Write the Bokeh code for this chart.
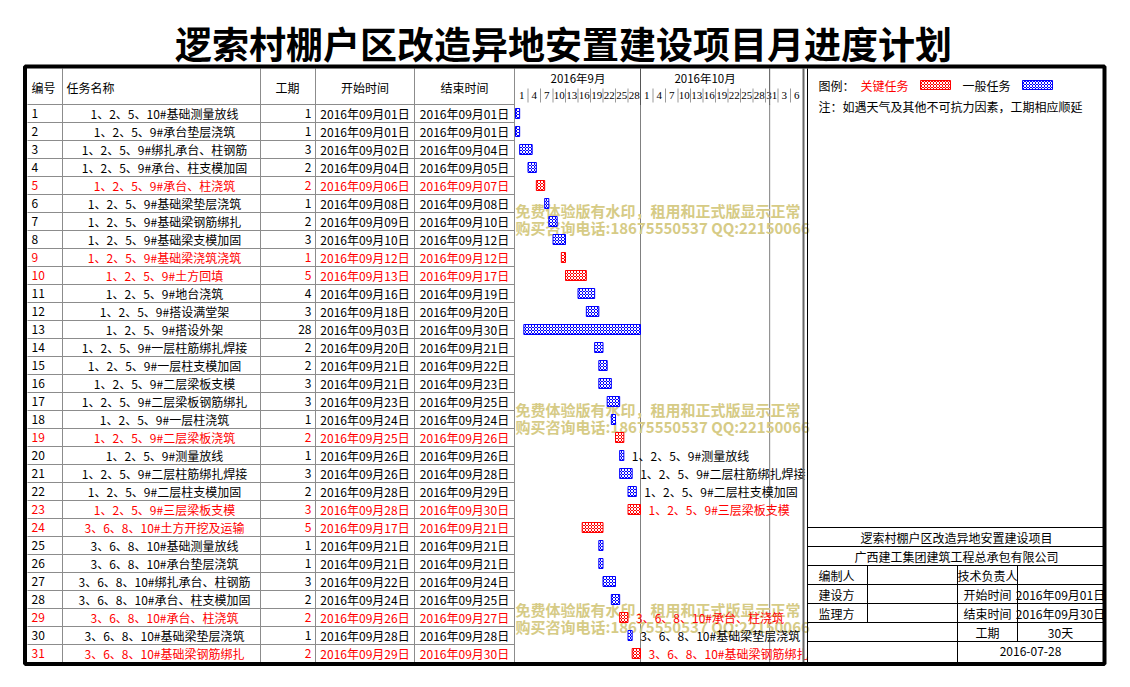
import pandas as pd
from bokeh.plotting import figure
from bokeh.models import Range1d
from bokeh.core.properties import value
from bokeh.embed import file_html
from bokeh.resources import INLINE

FONT = "Noto Sans CJK SC"

chart_title = "逻索村棚户区改造异地安置建设项目月进度计划"
header_cols = ["编号", "任务名称", "工期", "开始时间", "结束时间"]
task_ids = list(range(1, 32))
task_names = [
    "1、2、5、10#基础测量放线", "1、2、5、9#承台垫层浇筑", "1、2、5、9#绑扎承台、柱钢筋",
    "1、2、5、9#承台、柱支模加固", "1、2、5、9#承台、柱浇筑", "1、2、5、9#基础梁垫层浇筑",
    "1、2、5、9#基础梁钢筋绑扎", "1、2、5、9#基础梁支模加固", "1、2、5、9#基础梁浇筑浇筑",
    "1、2、5、9#土方回填", "1、2、5、9#地台浇筑", "1、2、5、9#搭设满堂架",
    "1、2、5、9#搭设外架", "1、2、5、9#一层柱筋绑扎焊接", "1、2、5、9#一层柱支模加固",
    "1、2、5、9#二层梁板支模", "1、2、5、9#二层梁板钢筋绑扎", "1、2、5、9#一层柱浇筑",
    "1、2、5、9#二层梁板浇筑", "1、2、5、9#测量放线", "1、2、5、9#二层柱筋绑扎焊接",
    "1、2、5、9#二层柱支模加固", "1、2、5、9#三层梁板支模", "3、6、8、10#土方开挖及运输",
    "3、6、8、10#基础测量放线", "3、6、8、10#承台垫层浇筑", "3、6、8、10#绑扎承台、柱钢筋",
    "3、6、8、10#承台、柱支模加固", "3、6、8、10#承台、柱浇筑", "3、6、8、10#基础梁垫层浇筑",
    "3、6、8、10#基础梁钢筋绑扎",
]
durations = [1, 1, 3, 2, 2, 1, 2, 3, 1, 5, 4, 3, 28, 2, 2, 3, 3, 1, 2, 1, 3, 2, 3, 5, 1, 1, 3, 2, 2, 1, 2]
start_days = [1, 1, 2, 4, 6, 8, 9, 10, 12, 13, 16, 18, 3, 20, 21, 21, 23, 24, 25, 26, 26, 28, 28, 17, 21, 21, 22, 24, 26, 28, 29]
end_days = [1, 1, 4, 5, 7, 8, 10, 12, 12, 17, 19, 20, 30, 21, 22, 23, 25, 24, 26, 26, 28, 29, 30, 21, 21, 21, 24, 25, 27, 28, 30]
critical_ids = [5, 9, 10, 19, 23, 24, 29, 31]
bar_label_ids = [20, 21, 22, 23, 29, 30, 31]
month_labels = ["2016年9月", "2016年10月"]
month_starts = ["2016-09-01", "2016-10-01", "2016-11-01"]
day_labels = ["1", "4", "7", "10", "13", "16", "19", "22", "25", "28",
              "1", "4", "7", "10", "13", "16", "19", "22", "25", "28", "31", "3", "6"]
watermark_lines = ["免费体验版有水印，租用和正式版显示正常", "购买咨询电话:18675550537 QQ:22150066"]
legend_texts = ["图例：", "关键任务", "一般任务"]
note_text = "注：如遇天气及其他不可抗力因素，工期相应顺延"
info_project = "逻索村棚户区改造异地安置建设项目"
info_company = "广西建工集团建筑工程总承包有限公司"
info_left = ["编制人", "建设方", "监理方"]
info_mid = ["技术负责人", "开始时间", "结束时间", "工期"]
info_right = ["", "2016年09月01日", "2016年09月30日", "30天"]
info_date = "2016-07-28"

# ---- derived ----
origin = pd.Timestamp("2016-09-01")
def d2str(d):
    return f"2016年09月{d:02d}日"
start_str = [d2str(d) for d in start_days]
end_str = [d2str(d) for d in end_days]
left = [d - 1 for d in start_days]
right = [d for d in end_days]
rows = [i - 1 for i in task_ids]
is_crit = [i in critical_ids for i in task_ids]
colors = ["#ff0000" if c else "#000000" for c in is_crit]

W, H = 1122, 679
PX0, PY0 = 0, 0
ROW_TOP, ROW_H = 104, 18
G_X0, PPD = 515, 125 / 30

p = figure(width=W, height=H, x_range=Range1d(PX0, PX0 + W), y_range=Range1d(PY0 + H, PY0),
           toolbar_location=None, output_backend="svg", x_axis_location=None,
           y_axis_location=None, min_border=0, outline_line_color=None, title=None)
p.grid.visible = False
p.background_fill_color = "white"
p.extra_x_ranges = {"days": Range1d((PX0 - G_X0) / PPD, (PX0 + W - G_X0) / PPD)}
p.extra_y_ranges = {"rows": Range1d((PY0 + H - ROW_TOP) / ROW_H - 0.5, (PY0 - ROW_TOP) / ROW_H - 0.5)}


def txt(x, y, t, color="black", size="12px", align="left", font=FONT, style="normal",
        xr="default", yr="default", x_offset=0):
    n = len(t)
    p.text(x=x, y=y, text=t, text_color=color if isinstance(color, list) else [color] * n,
           text_font=value(font), text_font_size=size, text_align=align,
           text_baseline="middle", text_font_style=style, x_range_name=xr, y_range_name=yr,
           x_offset=x_offset)


GRID = "#8c8c8c"
# title
txt([563], [42], [chart_title], size="37px", align="center", style="bold")

# table grid
row_bounds = [r - 0.5 for r in range(len(task_ids) + 1)]
p.segment(x0=[27] * len(row_bounds), x1=[514] * len(row_bounds), y0=row_bounds, y1=row_bounds,
          line_color=GRID, line_width=1, y_range_name="rows")
col_x = [62, 260, 315, 414, 514]
p.segment(x0=col_x, x1=col_x, y0=[68] * 5, y1=[662] * 5, line_color=GRID, line_width=1)

# header text
txt([31, 66], [87, 87], header_cols[:2], align="left")
txt([287, 364.5, 464], [87] * 3, header_cols[2:], align="center")

# table body
txt([31] * 31, rows, [str(i) for i in task_ids], color=colors, yr="rows")
txt([164] * 31, rows, task_names, color=colors, align="center", yr="rows")
txt([311] * 31, rows, [str(d) for d in durations], color=colors, align="right", yr="rows")
txt([364.5] * 31, rows, start_str, color=colors, align="center", yr="rows")
txt([464] * 31, rows, end_str, color=colors, align="center", yr="rows")

# gantt header
m_days = [(pd.Timestamp(m) - origin).days for m in month_starts]
m_centers = [(m_days[i] + m_days[i + 1]) / 2 for i in range(2)]
txt(m_centers, [77, 77], month_labels, size="11.5px", align="center", xr="days")
cells = [3 * k for k in range(len(day_labels))]
txt([c + 1.5 for c in cells], [95] * len(cells), day_labels, size="11px", align="center",
    font="Liberation Serif", xr="days")
p.segment(x0=cells[1:], x1=cells[1:], y0=[88] * (len(cells) - 1), y1=[102] * (len(cells) - 1),
          line_color="#999999", line_width=1, x_range_name="days")
month_lines = m_days[1:]
p.segment(x0=month_lines, x1=month_lines, y0=[68] * 2, y1=[104] * 2, line_color="#555555",
          line_width=1, x_range_name="days")
p.segment(x0=month_lines, x1=month_lines, y0=[104] * 2, y1=[662] * 2, line_color="black",
          line_width=1, line_dash="1 1", x_range_name="days")

# watermark
WM = "#d6cb86"
for yy in (210, 409, 609):
    txt([515, 515], [yy, yy + 17], watermark_lines, color=WM, size="15px", style="bold")

# bars
for crit, fill in ((False, "#0000ff"), (True, "#ff0000")):
    idx = [i for i in range(31) if is_crit[i] == crit]
    p.hbar(y=[rows[i] for i in idx], left=[left[i] for i in idx], right=[right[i] for i in idx],
           height=10 / 18, fill_color=fill, line_color=fill, line_width=1,
           hatch_pattern="diagonal_cross", hatch_color="white", hatch_scale=3, hatch_weight=1,
           x_range_name="days", y_range_name="rows")

lab_idx = [i - 1 for i in bar_label_ids]
txt([right[i] for i in lab_idx], [rows[i] for i in lab_idx], [task_names[i] for i in lab_idx],
    color=[colors[i] for i in lab_idx], xr="days", yr="rows", x_offset=8)

# separators between gantt and right panel
p.segment(x0=[803], x1=[803], y0=[68], y1=[662], line_color="#666666", line_width=2)
p.segment(x0=[807], x1=[807], y0=[68], y1=[662], line_color="black", line_width=1)

# legend
txt([818], [85], [legend_texts[0]])
txt([860], [85], [legend_texts[1]], color="#ff0000")
txt([962], [85], [legend_texts[2]])
for (x0, c) in ((920, "#ff0000"), (1022, "#0000ff")):
    p.quad(left=[x0], right=[x0 + 30], top=[80], bottom=[89], fill_color=c, line_color=c,
           hatch_pattern="diagonal_cross", hatch_color="white", hatch_scale=3, hatch_weight=1)
txt([818], [106], [note_text])

# info table
hy = [527, 546, 565, 584, 603, 622, 641]
p.segment(x0=[807] * len(hy), x1=[1104] * len(hy), y0=hy, y1=hy, line_color="black", line_width=1)
p.segment(x0=[867, 957, 1017], x1=[867, 957, 1017], y0=[565, 565, 565], y1=[622, 662, 641],
          line_color="black", line_width=1)
txt([956, 956], [536.5, 555.5], [info_project, info_company], align="center")
txt([818] * 3, [574.5, 593.5, 612.5], info_left)
txt([957], [574.5], [info_mid[0]])
txt([987] * 3, [593.5, 612.5, 631.5], info_mid[1:], align="center")
txt([1060] * 3, [593.5, 612.5, 631.5], info_right[1:], align="center")
txt([1030], [651], [info_date], align="center")

# outer frame
p.quad(left=[24.5], right=[1104], top=[66], bottom=[663.5], fill_color=None, line_color="black",
       line_width=4)

open("out.html", "w").write(file_html(p, INLINE))
